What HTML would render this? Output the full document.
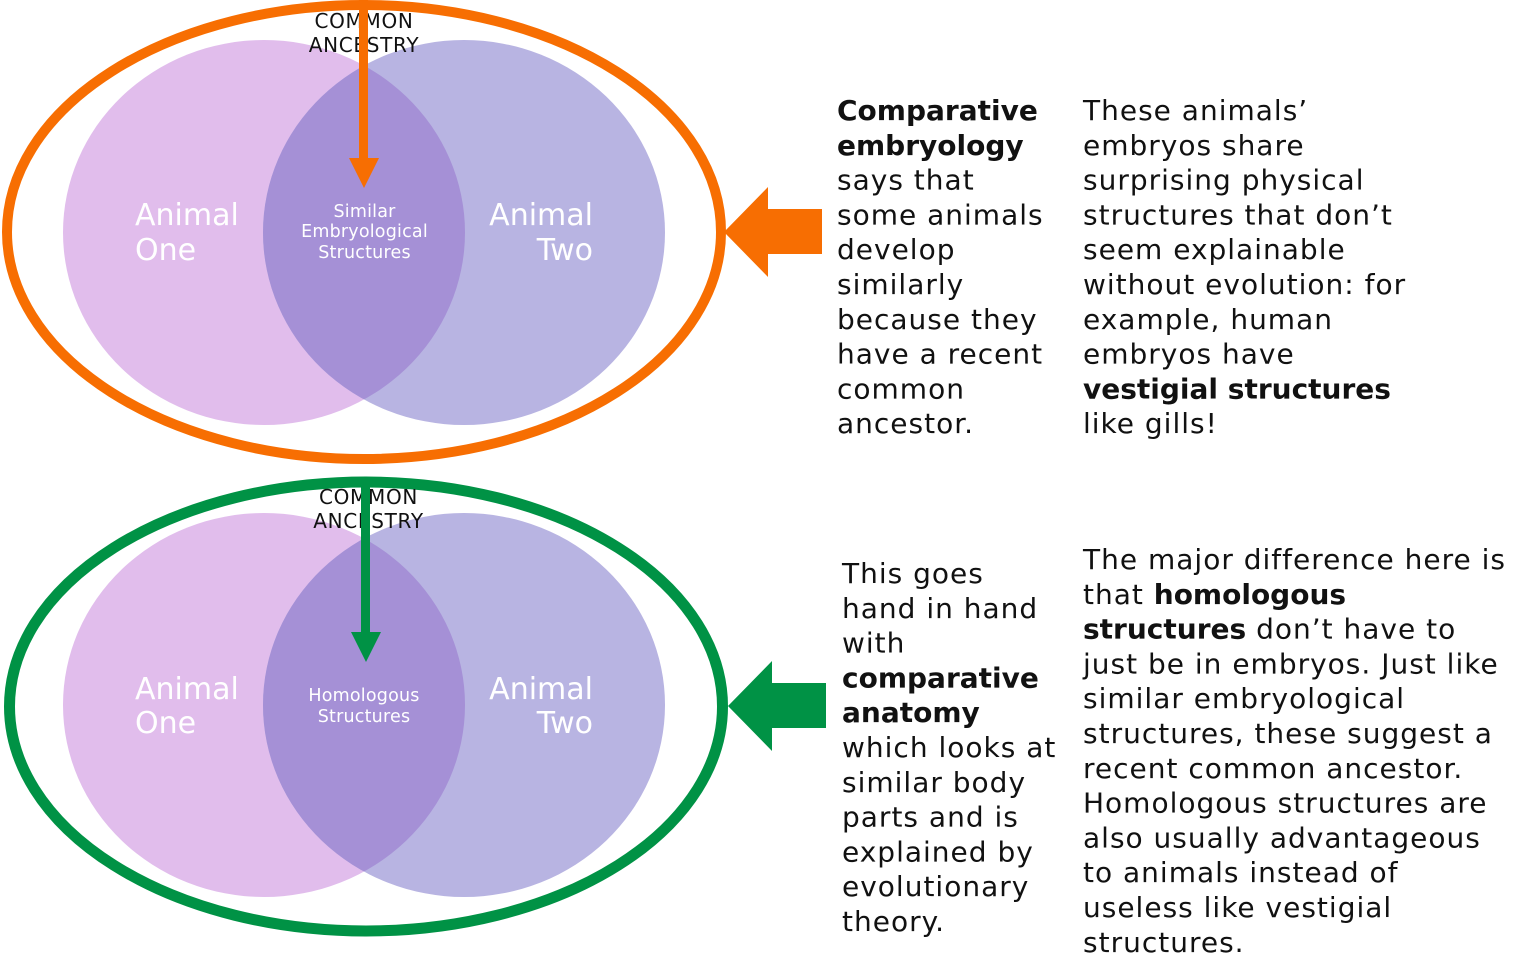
<!DOCTYPE html>
<html>
<head>
<meta charset="utf-8">
<style>
  html, body { margin: 0; padding: 0; background: #ffffff; }
  body { width: 1536px; height: 979px; overflow: hidden; }
  svg { display: block; }
  .t { font-family: "DejaVu Sans", "Liberation Sans", sans-serif; }
</style>
</head>
<body>
<svg width="1536" height="979" viewBox="0 0 1536 979" xmlns="http://www.w3.org/2000/svg">
  <defs>
    <clipPath id="clipTop"><ellipse cx="464" cy="232.5" rx="201" ry="192.5"/></clipPath>
    <clipPath id="clipBot"><ellipse cx="464" cy="705" rx="201" ry="192"/></clipPath>
  </defs>
  <rect x="0" y="0" width="1536" height="979" fill="#ffffff"/>

  <!-- ===== TOP DIAGRAM ===== -->
  <ellipse cx="264" cy="232.5" rx="201" ry="192.5" fill="#E1BDEC"/>
  <ellipse cx="464" cy="232.5" rx="201" ry="192.5" fill="#B8B4E2"/>
  <ellipse cx="264" cy="232.5" rx="201" ry="192.5" fill="#A590D6" clip-path="url(#clipTop)"/>

  <ellipse cx="364" cy="232" rx="357" ry="227" fill="none" stroke="#F76E02" stroke-width="10"/>

  <g class="t" fill="#ffffff">
    <text x="135" y="225" font-size="30">Animal</text>
    <text x="135" y="260" font-size="30">One</text>
    <text x="593" y="225" font-size="30" text-anchor="end">Animal</text>
    <text x="593" y="260" font-size="30" text-anchor="end">Two</text>
    <g font-size="17.5" letter-spacing="0.2" text-anchor="middle">
      <text x="364.5" y="217">Similar</text>
      <text x="364.5" y="237">Embryological</text>
      <text x="364.5" y="258">Structures</text>
    </g>
  </g>

  <g class="t" fill="#111111" font-size="20" letter-spacing="0.7" text-anchor="middle">
    <text x="364" y="28">COMMON</text>
    <text x="364" y="52">ANCESTRY</text>
  </g>

  <!-- vertical orange arrow -->
  <rect x="359" y="0" width="9" height="160" fill="#F76E02"/>
  <polygon points="349,158 379,158 364,188" fill="#F76E02"/>

  <!-- horizontal orange arrow -->
  <polygon points="724,232 768,187 768,209 822,209 822,254 768,254 768,277" fill="#F76E02"/>

  <!-- ===== BOTTOM DIAGRAM ===== -->
  <ellipse cx="264" cy="705" rx="201" ry="192" fill="#E1BDEC"/>
  <ellipse cx="464" cy="705" rx="201" ry="192" fill="#B8B4E2"/>
  <ellipse cx="264" cy="705" rx="201" ry="192" fill="#A590D6" clip-path="url(#clipBot)"/>

  <ellipse cx="366" cy="706.5" rx="356.5" ry="224.5" fill="none" stroke="#009245" stroke-width="11"/>

  <g class="t" fill="#ffffff">
    <text x="135" y="699" font-size="30">Animal</text>
    <text x="135" y="733" font-size="30">One</text>
    <text x="593" y="699" font-size="30" text-anchor="end">Animal</text>
    <text x="593" y="733" font-size="30" text-anchor="end">Two</text>
    <g font-size="17.5" letter-spacing="0.2" text-anchor="middle">
      <text x="364" y="701">Homologous</text>
      <text x="364" y="722">Structures</text>
    </g>
  </g>

  <g class="t" fill="#111111" font-size="20" letter-spacing="0.7" text-anchor="middle">
    <text x="368.5" y="504">COMMON</text>
    <text x="368.5" y="528">ANCESTRY</text>
  </g>

  <!-- vertical green arrow -->
  <rect x="361" y="477" width="9" height="157" fill="#009245"/>
  <polygon points="351,632 381,632 366,662" fill="#009245"/>

  <!-- horizontal green arrow -->
  <polygon points="728,706 772,661 772,683 826,683 826,728 772,728 772,751" fill="#009245"/>

  <!-- ===== RIGHT TEXT ===== -->
  <g class="t" fill="#111111" font-size="28" letter-spacing="1">
    <!-- top column 1 -->
    <text x="837" y="120"><tspan font-weight="bold" letter-spacing="0">Comparative</tspan></text>
    <text x="837" y="154.8"><tspan font-weight="bold" letter-spacing="0">embryology</tspan></text>
    <text x="837" y="189.6">says that</text>
    <text x="837" y="224.4">some animals</text>
    <text x="837" y="259.2">develop</text>
    <text x="837" y="294">similarly</text>
    <text x="837" y="328.8">because they</text>
    <text x="837" y="363.6">have a recent</text>
    <text x="837" y="398.4">common</text>
    <text x="837" y="433.2">ancestor.</text>

    <!-- top column 2 -->
    <text x="1083" y="120">These animals’</text>
    <text x="1083" y="154.8">embryos share</text>
    <text x="1083" y="189.6">surprising physical</text>
    <text x="1083" y="224.4">structures that don’t</text>
    <text x="1083" y="259.2">seem explainable</text>
    <text x="1083" y="294">without evolution: for</text>
    <text x="1083" y="328.8">example, human</text>
    <text x="1083" y="363.6">embryos have</text>
    <text x="1083" y="398.4"><tspan font-weight="bold" letter-spacing="0">vestigial structures</tspan></text>
    <text x="1083" y="433.2">like gills!</text>

    <!-- bottom column 1 -->
    <text x="842" y="583">This goes</text>
    <text x="842" y="617.8">hand in hand</text>
    <text x="842" y="652.6">with</text>
    <text x="842" y="687.4"><tspan font-weight="bold" letter-spacing="0">comparative</tspan></text>
    <text x="842" y="722.2"><tspan font-weight="bold" letter-spacing="0">anatomy</tspan></text>
    <text x="842" y="757">which looks at</text>
    <text x="842" y="791.8">similar body</text>
    <text x="842" y="826.6">parts and is</text>
    <text x="842" y="861.4">explained by</text>
    <text x="842" y="896.2">evolutionary</text>
    <text x="842" y="931">theory.</text>

    <!-- bottom column 2 -->
    <text x="1083" y="569">The major difference here is</text>
    <text x="1083" y="603.8">that <tspan font-weight="bold" letter-spacing="0">homologous</tspan></text>
    <text x="1083" y="638.6"><tspan font-weight="bold" letter-spacing="0">structures</tspan> don’t have to</text>
    <text x="1083" y="673.4">just be in embryos. Just like</text>
    <text x="1083" y="708.2">similar embryological</text>
    <text x="1083" y="743">structures, these suggest a</text>
    <text x="1083" y="777.8">recent common ancestor.</text>
    <text x="1083" y="812.6">Homologous structures are</text>
    <text x="1083" y="847.4">also usually advantageous</text>
    <text x="1083" y="882.2">to animals instead of</text>
    <text x="1083" y="917">useless like vestigial</text>
    <text x="1083" y="951.8">structures.</text>
  </g>
</svg>
</body>
</html>
